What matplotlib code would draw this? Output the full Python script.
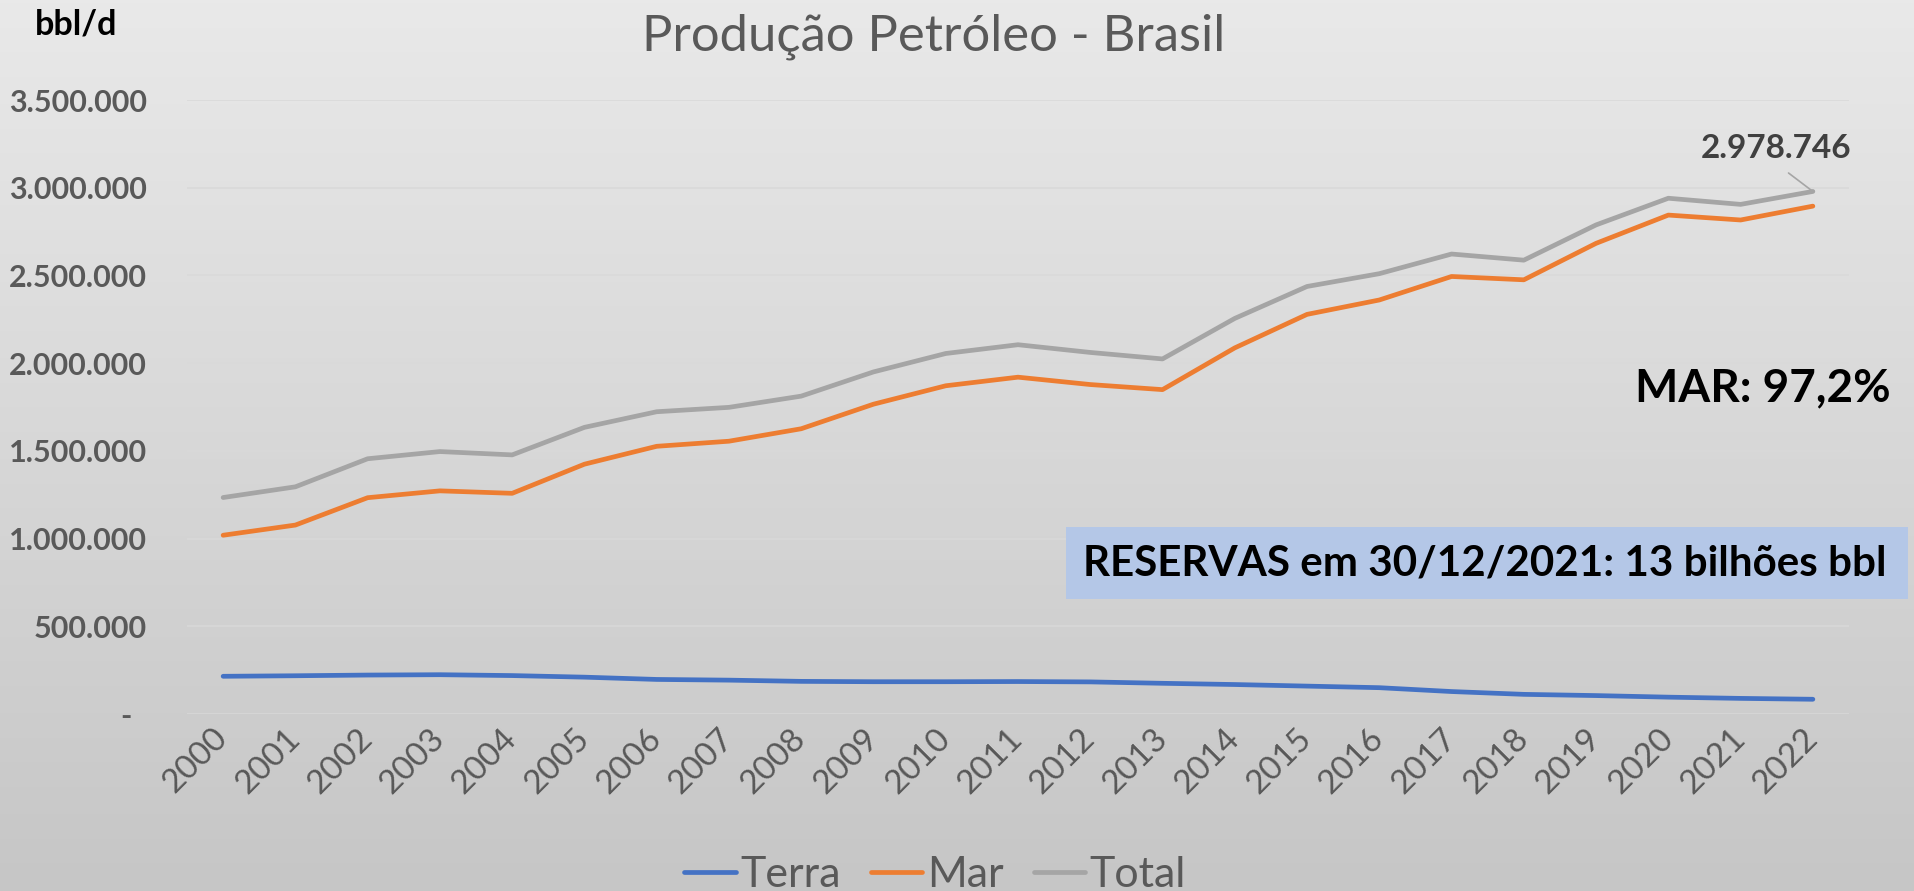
import numpy as np
import matplotlib
matplotlib.use("Agg")
import matplotlib.pyplot as plt
from matplotlib.colors import LinearSegmentedColormap
from matplotlib.patches import Rectangle
from matplotlib.transforms import ScaledTranslation

plt.rcParams['font.family'] = ['Lato', 'DejaVu Sans']

years = [str(y) for y in range(2000, 2023)]
# thousand bbl/d
terra = [215, 218, 222, 224, 219, 210, 197, 193, 186, 184, 184, 185, 183,
         175, 168, 159, 150, 128, 112, 105, 96, 89, 84]
mar = [1019, 1077, 1233, 1272, 1258, 1424, 1526, 1555, 1626, 1766, 1871, 1920,
       1878, 1849, 2087, 2278, 2360, 2494, 2475, 2683, 2844, 2816, 2895]
total = [1234, 1295, 1455, 1496, 1477, 1634, 1723, 1748, 1812, 1950, 2055, 2105,
         2061, 2024, 2255, 2437, 2510, 2622, 2587, 2788, 2940, 2905, 2978.746]
yticks = [0, 500000, 1000000, 1500000, 2000000, 2500000, 3000000, 3500000]

W, H = 1914, 891


def fx(x):
    return x / W


def fy(y):
    return 1 - y / H


fig = plt.figure(figsize=(W / 100, H / 100), dpi=100)

# gradient background
bg = fig.add_axes([0, 0, 1, 1])
cmap = LinearSegmentedColormap.from_list('bg', ['#e9e9e9', '#c6c6c6'])
bg.imshow(np.linspace(0, 1, 256).reshape(-1, 1), cmap=cmap, aspect='auto',
          extent=[0, 1, 0, 1])
bg.axis('off')

ax = fig.add_axes([fx(187), fy(714), fx(1849 - 187), (714 - 100) / H])
ax.patch.set_alpha(0)

x = np.arange(len(years))
t = np.array(terra) * 1000
m = np.array(mar) * 1000
tot = np.array(total) * 1000
ax.plot(x, t, color='#4472c4', lw=3.4, solid_capstyle='round', label='Terra', zorder=3)
ax.plot(x, m, color='#ed7d31', lw=3.4, solid_capstyle='round', label='Mar', zorder=3)
ax.plot(x, tot, color='#a5a5a5', lw=3.4, solid_capstyle='round', label='Total', zorder=3)

ax.set_xlim(-0.5, len(years) - 0.5)
ax.set_ylim(0, 3500000)
ax.set_yticks(yticks)
ax.set_yticklabels(['-  '] + [f'{v:,.0f}'.replace(',', '.') for v in yticks[1:]],
                   fontsize=22, fontweight='bold', color='#595959')
ax.set_xticks(x)
ax.set_xticklabels(years, rotation=45, ha='right', va='center',
                   rotation_mode='anchor', fontsize=24, color='#595959')
off = ScaledTranslation(13 / 100, -33 / 100, fig.dpi_scale_trans)
for lab in ax.get_xticklabels():
    lab.set_transform(lab.get_transform() + off)
ax.tick_params(axis='both', length=0)
ax.tick_params(axis='y', pad=29)
ax.tick_params(axis='x', pad=14)
ax.grid(axis='y', color='#d9d9d9', lw=1.1, zorder=0)
for s in ax.spines.values():
    s.set_visible(False)

# label on last total point
ax.annotate('2.978.746', xy=(x[-1], tot[-1]), xycoords='data',
            xytext=(fx(1776), fy(149)), textcoords='figure fraction',
            ha='center', va='center', fontsize=24, fontweight='bold', color='#404040',
            arrowprops=dict(arrowstyle='-', color='#a5a5a5', lw=1.2,
                            relpos=(0.5, 0), shrinkA=8, shrinkB=0))

fig.text(fx(934), fy(37), 'Produção Petróleo - Brasil', ha='center', va='center',
         fontsize=36.5, color='#595959')
fig.text(fx(76), fy(24), 'bbl/d', ha='center', va='center', fontsize=24.5,
         fontweight='bold', color='black')
fig.text(fx(1763), fy(388), 'MAR: 97,2%', ha='center', va='center', fontsize=33,
         fontweight='bold', color='black')

fig.patches.append(Rectangle((fx(1066), fy(599)), fx(1908 - 1066), (599 - 527) / H,
                             transform=fig.transFigure, fc='#b4c7e7', ec='none', zorder=1))
fig.text(fx(1485), fy(563), 'RESERVAS em 30/12/2021: 13 bilhões bbl', ha='center',
         va='center', fontsize=30.3, fontweight='bold', color='black', zorder=2)

fig.legend(loc='center', bbox_to_anchor=(fx(935), fy(875)), ncol=3, frameon=False,
           fontsize=31, handlelength=1.2, handletextpad=0.1, columnspacing=0.7,
           labelcolor='#595959')

fig.savefig('out.png', dpi=100)
